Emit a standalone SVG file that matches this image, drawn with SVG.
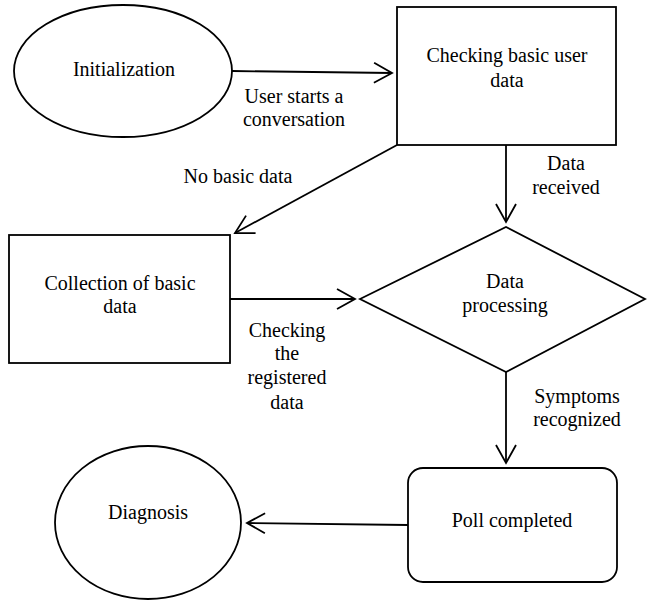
<svg xmlns="http://www.w3.org/2000/svg" width="647" height="601" viewBox="0 0 647 601">
<style>
.s{fill:#fff;stroke:#000;stroke-width:1.8}
.c{fill:none;stroke:#000;stroke-width:1.8}
</style>
<defs>
<marker id="a" markerUnits="userSpaceOnUse" markerWidth="24" markerHeight="24" viewBox="-20 -12 24 24" refX="0" refY="0" orient="auto" overflow="visible">
<path d="M-18,-10 L0,0 L-18,10" fill="none" stroke="#000" stroke-width="1.8"/>
</marker>
</defs>
<rect width="647" height="601" fill="#fff"/>
<g id="connectors">
<line class="c" x1="232" y1="71" x2="392" y2="73" marker-end="url(#a)"/>
<line class="c" x1="397" y1="145" x2="235" y2="233" marker-end="url(#a)"/>
<line class="c" x1="506" y1="145" x2="506" y2="222" marker-end="url(#a)"/>
<line class="c" x1="230" y1="299" x2="355" y2="299" marker-end="url(#a)"/>
<line class="c" x1="506" y1="372" x2="506" y2="463" marker-end="url(#a)"/>
<line class="c" x1="408" y1="525" x2="247" y2="523" marker-end="url(#a)"/>
<text x="294" y="103" style="font-family:'Liberation Serif',serif;font-size:20px;text-anchor:middle">User starts a</text>
<text x="294" y="126" style="font-family:'Liberation Serif',serif;font-size:20px;text-anchor:middle">conversation</text>
<text x="238" y="183" style="font-family:'Liberation Serif',serif;font-size:20px;text-anchor:middle">No basic data</text>
<text x="566" y="170" style="font-family:'Liberation Serif',serif;font-size:20px;text-anchor:middle">Data</text>
<text x="566" y="194" style="font-family:'Liberation Serif',serif;font-size:20px;text-anchor:middle">received</text>
<text x="287" y="337" style="font-family:'Liberation Serif',serif;font-size:20px;text-anchor:middle">Checking</text>
<text x="287" y="360" style="font-family:'Liberation Serif',serif;font-size:20px;text-anchor:middle">the</text>
<text x="287" y="384" style="font-family:'Liberation Serif',serif;font-size:20px;text-anchor:middle">registered</text>
<text x="287" y="409" style="font-family:'Liberation Serif',serif;font-size:20px;text-anchor:middle">data</text>
<text x="577" y="403" style="font-family:'Liberation Serif',serif;font-size:20px;text-anchor:middle">Symptoms</text>
<text x="577" y="426" style="font-family:'Liberation Serif',serif;font-size:20px;text-anchor:middle">recognized</text>
</g>
<g id="initialization">
<ellipse class="s" cx="123" cy="71" rx="109" ry="66"/>
<text x="124" y="76" style="font-family:'Liberation Serif',serif;font-size:20px;text-anchor:middle">Initialization</text>
</g>
<g id="checking">
<rect class="s" x="397" y="7" width="219" height="138"/>
<text x="507" y="62" style="font-family:'Liberation Serif',serif;font-size:20px;text-anchor:middle">Checking basic user</text>
<text x="507" y="87" style="font-family:'Liberation Serif',serif;font-size:20px;text-anchor:middle">data</text>
</g>
<g id="collection">
<rect class="s" x="9" y="235" width="221" height="128"/>
<text x="120" y="290" style="font-family:'Liberation Serif',serif;font-size:20px;text-anchor:middle">Collection of basic</text>
<text x="120" y="313" style="font-family:'Liberation Serif',serif;font-size:20px;text-anchor:middle">data</text>
</g>
<g id="processing">
<polygon class="s" points="360,299 506,227 645,299 506,372"/>
<text x="505" y="288" style="font-family:'Liberation Serif',serif;font-size:20px;text-anchor:middle">Data</text>
<text x="505" y="312" style="font-family:'Liberation Serif',serif;font-size:20px;text-anchor:middle">processing</text>
</g>
<g id="poll">
<rect class="s" x="408" y="468" width="209" height="114" rx="15" ry="15"/>
<text x="512" y="527" style="font-family:'Liberation Serif',serif;font-size:20px;text-anchor:middle">Poll completed</text>
</g>
<g id="diagnosis">
<ellipse class="s" cx="148" cy="522.5" rx="93" ry="76.5"/>
<text x="148" y="519" style="font-family:'Liberation Serif',serif;font-size:20px;text-anchor:middle">Diagnosis</text>
</g>
</svg>
